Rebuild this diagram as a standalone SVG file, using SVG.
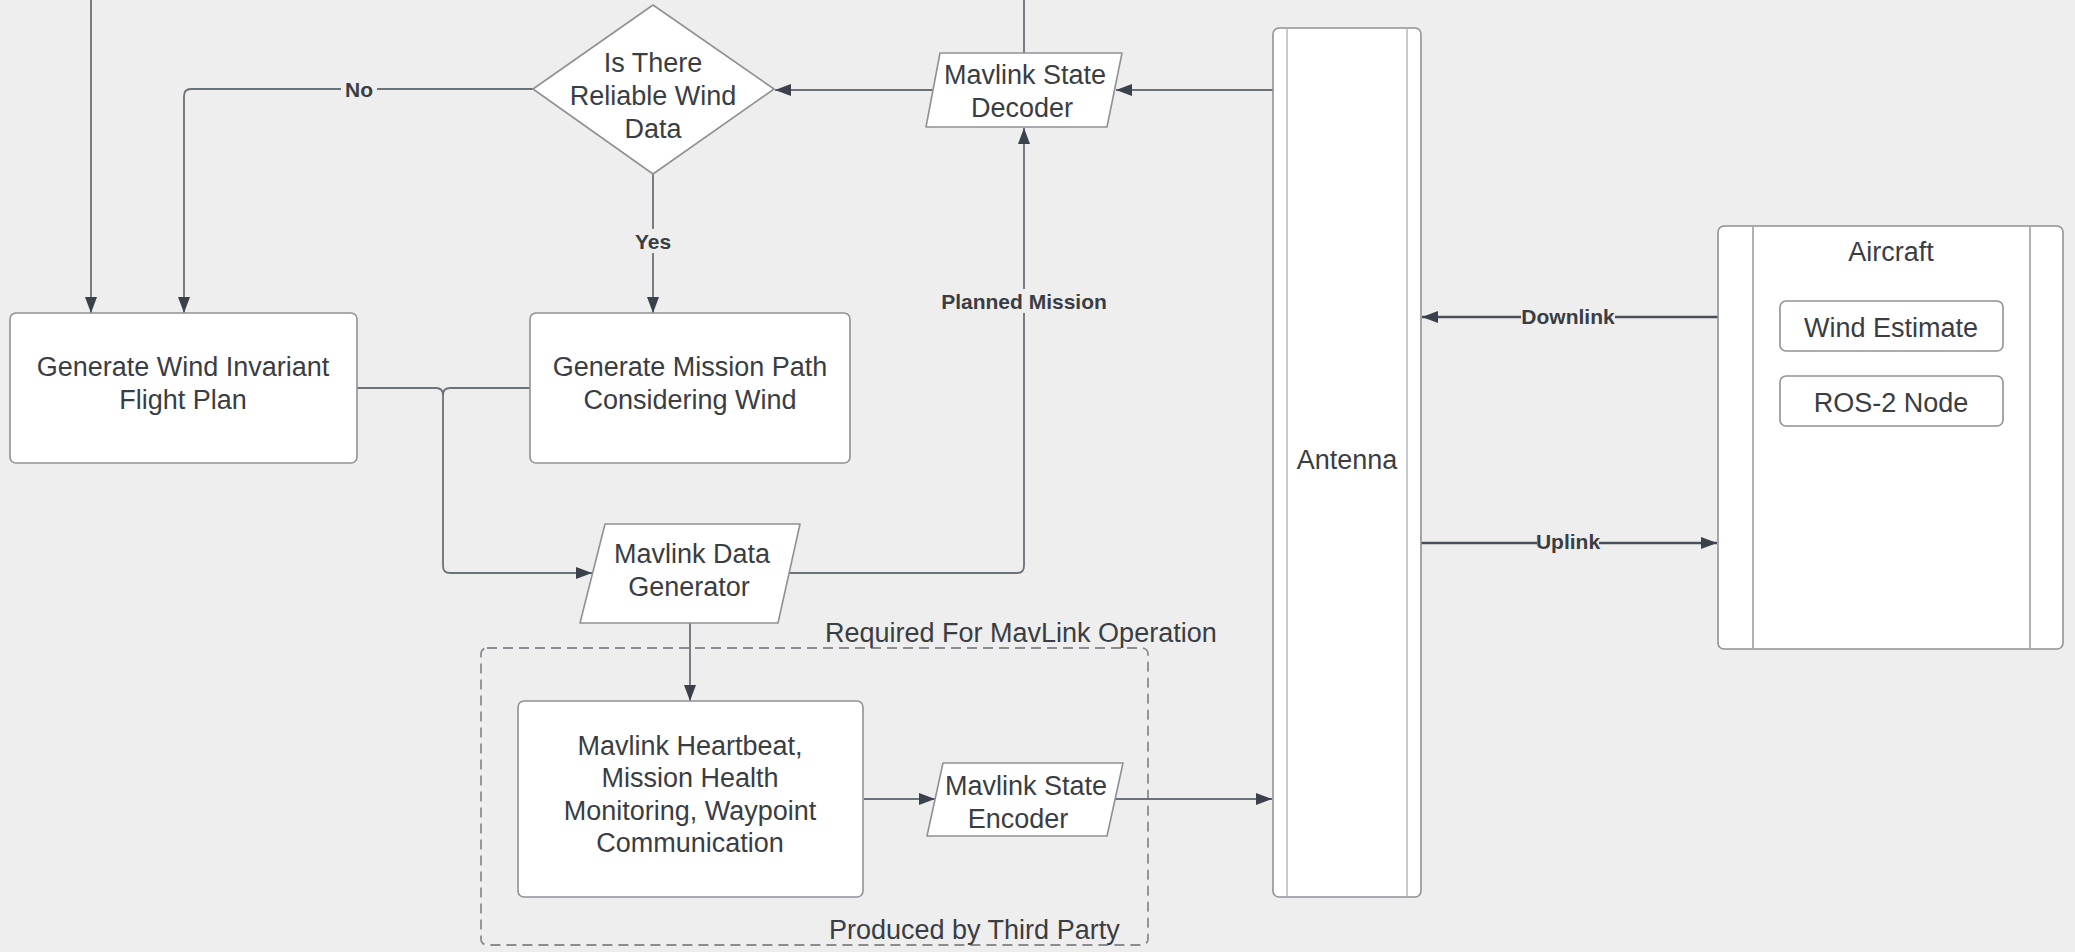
<svg xmlns="http://www.w3.org/2000/svg" width="2075" height="952" viewBox="0 0 2075 952">
<defs>
<style>
.bg{fill:#eeeeee}
.node{fill:#ffffff;stroke:#8e9196;stroke-width:1.6}
.inner{stroke:#b8bcc1;stroke-width:1.6;fill:none}
.t{font-family:"Liberation Sans",Arial,sans-serif;font-size:27px;fill:#3a3d42;text-anchor:middle;dominant-baseline:central}
.lbl{font-family:"Liberation Sans",Arial,sans-serif;font-size:21px;font-weight:bold;fill:#3a3d42;text-anchor:middle;dominant-baseline:central}
.c{fill:none;stroke:#6d7178;stroke-width:1.8}
.ck{fill:none;stroke:#4a4f57;stroke-width:2.6}
.lb{fill:#eeeeee}
</style>
<marker id="ah" markerUnits="userSpaceOnUse" markerWidth="18" markerHeight="12" refX="16" refY="6" orient="auto">
<path d="M0,0 L16,6 L0,12 Z" fill="#3b414b"/>
</marker>
</defs>
<rect class="bg" x="0" y="0" width="2075" height="952"/>

<g id="group-mavlink">
<rect x="481" y="648" width="667" height="297" rx="6" fill="none" stroke="#8a8d92" stroke-width="1.8" stroke-dasharray="10,6"/>
<text class="t" x="825" y="633" style="text-anchor:start">Required For MavLink Operation</text>
<text class="t" x="829" y="930" style="text-anchor:start">Produced by Third Party</text>
</g>

<g id="connectors">
<path class="c" d="M91,-2 V313" marker-end="url(#ah)"/>
<path class="c" d="M533,89 H191 Q184,89 184,96 V313" marker-end="url(#ah)"/>
<path class="c" d="M653,174 V313" marker-end="url(#ah)"/>
<path class="c" d="M933,90 H775" marker-end="url(#ah)"/>
<path class="c" d="M1273,90 H1116" marker-end="url(#ah)"/>
<path class="c" d="M1024,-2 V53"/>
<path class="c" d="M357,388 H436 Q443,388 443,395 V566 Q443,573 450,573 H592" marker-end="url(#ah)"/>
<path class="c" d="M530,388 H450 Q443,388 443,395"/>
<path class="c" d="M789,573 H1017 Q1024,573 1024,566 V128" marker-end="url(#ah)"/>
<path class="c" d="M690,623 V701" marker-end="url(#ah)"/>
<path class="c" d="M864,799 H935" marker-end="url(#ah)"/>
<path class="c" d="M1115,799 H1272" marker-end="url(#ah)"/>
<path class="ck" d="M1718,317 H1422" marker-end="url(#ah)"/>
<path class="ck" d="M1421,543 H1717" marker-end="url(#ah)"/>
<rect class="lb" x="341" y="78" width="36" height="22"/>
<text class="lbl" x="359" y="89">No</text>
<rect class="lb" x="633" y="229" width="40" height="24"/>
<text class="lbl" x="653" y="241">Yes</text>
<rect class="lb" x="936" y="289" width="176" height="24"/>
<text class="lbl" x="1024" y="301">Planned Mission</text>
<rect class="lb" x="1521" y="305" width="94" height="24"/>
<text class="lbl" x="1568" y="316">Downlink</text>
<rect class="lb" x="1537" y="530" width="62" height="24"/>
<text class="lbl" x="1568" y="541">Uplink</text>
</g>

<g id="decision">
<polygon class="node" points="653,5 774,89 653,174 533,89" stroke-linejoin="round"/>
<text class="t" x="653" y="63">Is There</text>
<text class="t" x="653" y="96">Reliable Wind</text>
<text class="t" x="653" y="129">Data</text>
</g>

<g id="wind-invariant">
<rect class="node" x="10" y="313" width="347" height="150" rx="6"/>
<text class="t" x="183" y="367">Generate Wind Invariant</text>
<text class="t" x="183" y="400">Flight Plan</text>
</g>

<g id="mission-path">
<rect class="node" x="530" y="313" width="320" height="150" rx="6"/>
<text class="t" x="690" y="367">Generate Mission Path</text>
<text class="t" x="690" y="400">Considering Wind</text>
</g>

<g id="data-generator">
<polygon class="node" points="605,524 800,524 778,623 580,623" stroke-linejoin="round"/>
<text class="t" x="692" y="554">Mavlink Data</text>
<text class="t" x="689" y="587">Generator</text>
</g>

<g id="state-decoder">
<polygon class="node" points="940,53 1122,53 1107,127 926,127" stroke-linejoin="round"/>
<text class="t" x="1025" y="75">Mavlink State</text>
<text class="t" x="1022" y="108">Decoder</text>
</g>

<g id="heartbeat">
<rect class="node" x="518" y="701" width="345" height="196" rx="6"/>
<text class="t" x="690" y="746">Mavlink Heartbeat,</text>
<text class="t" x="690" y="778">Mission Health</text>
<text class="t" x="690" y="811">Monitoring, Waypoint</text>
<text class="t" x="690" y="843">Communication</text>
</g>

<g id="state-encoder">
<polygon class="node" points="943,763 1123,763 1107,836 927,836" stroke-linejoin="round"/>
<text class="t" x="1026" y="786">Mavlink State</text>
<text class="t" x="1018" y="819">Encoder</text>
</g>

<g id="antenna">
<rect class="node" x="1273" y="28" width="148" height="869" rx="6"/>
<line class="inner" x1="1287" y1="29" x2="1287" y2="896"/>
<line class="inner" x1="1407" y1="29" x2="1407" y2="896"/>
<text class="t" x="1347" y="460">Antenna</text>
</g>

<g id="aircraft">
<rect class="node" x="1718" y="226" width="345" height="423" rx="6"/>
<line class="inner" x1="1753" y1="227" x2="1753" y2="648" style="stroke:#9a9ea3"/>
<line class="inner" x1="2030" y1="227" x2="2030" y2="648" style="stroke:#9a9ea3"/>
<text class="t" x="1891" y="252">Aircraft</text>
</g>

<g id="wind-estimate">
<rect class="node" x="1780" y="301" width="223" height="50" rx="6"/>
<text class="t" x="1891" y="328">Wind Estimate</text>
</g>

<g id="ros2-node">
<rect class="node" x="1780" y="376" width="223" height="50" rx="6"/>
<text class="t" x="1891" y="403">ROS-2 Node</text>
</g>
</svg>
